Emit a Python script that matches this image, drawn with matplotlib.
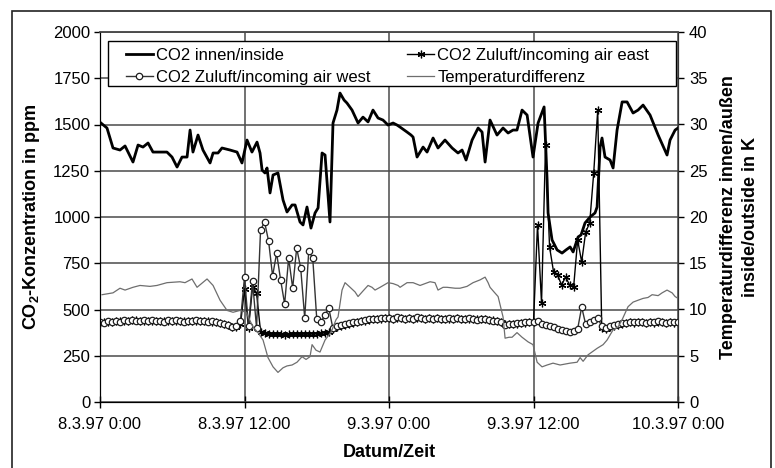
import numpy as np
import matplotlib
matplotlib.use('Agg')
import matplotlib.pyplot as plt
from matplotlib.patches import Rectangle

plt.rcParams['font.family'] = ['Liberation Sans', 'DejaVu Sans']
plt.rcParams['mathtext.fontset'] = 'custom'
plt.rcParams['mathtext.rm'] = 'Liberation Sans'
plt.rcParams['mathtext.bf'] = 'Liberation Sans:bold'

# ---------------- data ----------------
tick_hours = [0, 12, 24, 36, 48]
tick_labels = ["8.3.97 0:00", "8.3.97 12:00", "9.3.97 0:00", "9.3.97 12:00", "10.3.97 0:00"]

inside_hours = [0.08, 0.58, 1.08, 1.66, 2.08, 2.33, 2.74, 3.16, 3.57, 3.99, 4.40, 4.98, 5.56, 5.98,
                6.40, 6.81, 7.23, 7.48, 7.72, 8.14, 8.55, 9.14, 9.39, 9.80, 10.13, 10.80, 11.38,
                11.79, 12.21, 12.62, 13.04, 13.29, 13.46, 13.70, 13.87, 14.12, 14.37, 14.78, 15.20,
                15.53, 15.95, 16.20, 16.61, 16.86, 17.19, 17.52, 17.86, 18.11, 18.44, 18.69, 19.10,
                19.35, 19.68, 19.93, 20.27, 20.51, 20.93, 21.43, 21.84, 22.26, 22.67, 23.09, 23.50,
                23.92, 24.34, 24.67, 24.92, 25.50, 25.83, 26.00, 26.33, 26.83, 27.16, 27.66, 28.07,
                28.65, 29.24, 29.73, 30.07, 30.40, 30.90, 31.40, 31.73, 31.98, 32.39, 32.97, 33.47,
                33.89, 34.30, 34.63, 35.05, 35.47, 35.96, 36.38, 36.88, 37.13, 37.21, 37.54, 37.96,
                38.37, 38.70, 39.04, 39.29, 39.70, 39.95, 40.28, 40.70, 41.11, 41.28, 41.53, 41.69,
                41.94, 42.36, 42.61, 42.94, 43.36, 43.77, 44.27, 44.68, 45.10, 45.68, 46.35, 47.09,
                47.34, 47.76, 48.00]
inside_ppm = [1508, 1481, 1373, 1362, 1384, 1351, 1297, 1389, 1378, 1400, 1351, 1351, 1351, 1324,
              1270, 1324, 1324, 1470, 1351, 1443, 1362, 1292, 1346, 1346, 1373, 1362, 1351,
              1292, 1416, 1351, 1405, 1346, 1254, 1238, 1265, 1130, 1227, 1238, 1092,
              1027, 1065, 1065, 973, 957, 1054, 940, 1022, 1049, 1346, 1335, 973,
              1508, 1578, 1670, 1632, 1616, 1578, 1508, 1540, 1514, 1578, 1535, 1524,
              1497, 1508, 1497, 1486, 1459, 1443, 1432, 1324, 1378, 1351, 1427, 1373,
              1416, 1373, 1346, 1362, 1308, 1416, 1481, 1459, 1297, 1524, 1443, 1481,
              1454, 1470, 1470, 1578, 1551, 1324, 1508, 1595, 1200, 1022, 876, 822,
              805, 822, 838, 811, 892, 903, 968, 1000, 1022, 1054, 1378, 1427,
              1324, 1308, 1265, 1470, 1622, 1622, 1562, 1578, 1605, 1551, 1443, 1335,
              1416, 1470, 1481]

# incoming air, sampled every 20 minutes (145 samples from 0 h to 48 h)
sample_step_h = 1.0 / 3.0
west_ppm = [432, 428, 436, 430, 440, 434, 442, 438, 445, 440, 436, 442, 438, 444, 436, 440, 434, 441,
            437, 443, 438, 435, 440, 437, 442, 436, 440, 434, 438, 432,
            428, 422, 415, 405, 410, 440,
            676, 410, 654, 400,
            930, 973, 870, 681, 805, 659, 530, 778, 616, 832, 724, 454, 816, 778, 449, 430, 470, 508,
            400, 410, 415, 420, 425, 430, 435, 440, 443, 446, 448, 450, 452, 455,
            455, 450, 458, 452, 448, 455, 450, 457, 452, 448, 454, 450, 456, 451, 447, 453, 449, 455,
            450, 446, 452, 448, 444, 450, 446, 442, 440, 436,
            430, 418, 422, 420, 425, 428, 430, 432,
            432, 440, 420, 415, 410, 405, 395, 390, 385, 380, 385, 395, 513, 420, 435, 445, 455, 410,
            400, 410, 416, 420, 425,
            428, 432, 430, 435, 432, 428, 434, 430, 436, 432, 428, 434, 430, 432]
east_ppm = [428, 432, 432, 434, 436, 438, 438, 440, 441, 442, 440, 438, 440, 440, 438, 437, 436, 438,
            440, 440, 439, 437, 436, 438, 438, 437, 436, 436, 435, 430,
            425, 420, 415, 408, 405, 420,
            610, 400, 620, 590,
            380, 372, 368, 366, 365, 366, 364, 366, 365, 367, 366, 368, 367, 369, 370, 372, 375, 380,
            395, 405, 412, 418, 422, 428, 432, 436, 440, 444, 446, 448, 450, 452,
            452, 450, 454, 452, 450, 452, 451, 454, 452, 450, 452, 450, 453, 451, 449, 451, 450, 452,
            450, 448, 450, 448, 446, 448, 446, 444, 442, 438,
            432, 420, 420, 421, 424, 426, 429, 430,
            430, 957, 535, 1389, 838, 703, 686, 632, 676, 632, 622, 876, 757, 919, 968, 1238, 1578, 400,
            395, 405, 410, 415, 420,
            425, 430, 428, 432, 430, 426, 432, 428, 434, 430, 426, 432, 428, 430]

temp_hours = [0.17, 1.08, 1.66, 2.08, 2.74, 3.32, 4.15, 4.73, 5.56, 6.64, 7.06, 7.64, 8.06, 8.89, 9.39,
              9.97, 10.55, 11.05, 11.63, 12.13, 12.71, 13.12, 13.54, 13.95, 14.37, 14.78, 15.20,
              15.53, 15.95, 16.36, 16.78, 17.11, 17.44, 17.61, 17.94, 18.27, 18.69, 19.10, 19.27,
              19.60, 19.77, 20.10, 20.35, 20.77, 21.18, 21.43, 21.84, 22.26, 22.59, 22.84, 23.26,
              23.92, 24.34, 24.75, 24.92, 25.50, 26.00, 26.58, 27.41, 27.82, 28.07, 28.49, 28.82,
              29.49, 29.90, 30.48, 30.98, 31.56, 31.98, 32.23, 32.39, 32.72, 33.06, 33.47, 33.64,
              33.97, 34.22, 34.63, 35.05, 35.55, 35.96, 36.30, 36.71, 37.13, 37.62, 38.21, 38.62,
              39.04, 39.62, 39.87, 40.12, 40.53, 41.28, 41.78, 42.11, 42.61, 43.02, 43.36, 43.85,
              44.27, 44.68, 45.10, 45.51, 45.85, 46.35, 46.68, 47.09, 47.51, 47.76, 48.00]
temp_K = [11.6, 11.8, 12.3, 12.1, 12.4, 12.6, 12.5, 12.6, 12.9, 13.0, 12.9, 13.3, 12.4, 13.3, 12.6,
          11.0, 9.9, 9.7, 9.9, 9.7, 8.1, 7.5, 6.7, 4.8, 3.8, 3.2, 3.7,
          3.9, 4.0, 4.3, 4.9, 4.6, 4.9, 6.2, 5.6, 5.4, 6.7, 7.4, 7.8,
          8.9, 9.2, 12.1, 12.9, 12.4, 11.9, 11.4, 12.0, 12.6, 12.4, 12.1, 12.4,
          12.9, 12.8, 12.6, 12.4, 12.9, 12.9, 12.6, 13.0, 12.9, 12.1, 12.4, 12.4,
          12.3, 12.3, 12.5, 12.9, 13.2, 13.5, 12.9, 12.4, 11.9, 11.4, 9.2, 6.9,
          7.0, 7.0, 7.5, 7.0, 6.5, 6.2, 4.3, 3.8, 4.0, 4.2, 4.0, 4.1,
          4.2, 4.3, 4.8, 4.4, 5.1, 5.8, 6.2, 6.7, 7.8, 8.1, 8.9, 10.3,
          10.8, 11.0, 11.2, 11.3, 11.6, 11.5, 11.8, 12.1, 11.8, 11.4, 11.2]

# ---------------- figure ----------------
fig = plt.figure(figsize=(7.75, 4.68), dpi=100)
ax = fig.add_axes([100 / 775, 1 - 402 / 468, 578 / 775, 370 / 468])
ax2 = ax.twinx()

grid_hours = np.arange(len(west_ppm)) * sample_step_h

grid_col = '#4a4a4a'
ax.set_axisbelow(True)
ax.grid(True, color=grid_col, lw=1.1)

l_in, = ax.plot(inside_hours, inside_ppm, color='black', lw=2.0, zorder=3,
                label='CO2 innen/inside')
l_east, = ax.plot(grid_hours, east_ppm, color='black', lw=1.0, marker=(6, 2, 0), ms=5.5,
                  mew=0.9, zorder=4, label='CO2 Zuluft/incoming air east')
l_west, = ax.plot(grid_hours, west_ppm, color='#333333', lw=1.0, marker='o', ms=4.6,
                  mfc='white', mec='#1e1e1e', mew=0.9, zorder=5,
                  label='CO2 Zuluft/incoming air west')
l_temp, = ax2.plot(temp_hours, temp_K, color='#6e6e6e', lw=0.9, zorder=2,
                   label='Temperaturdifferenz')

ax.set_xlim(0, 48)
ax.set_ylim(0, 2000)
ax2.set_ylim(0, 40)
ax.set_yticks(np.arange(0, 2001, 250))
ax2.set_yticks(np.arange(0, 41, 5))
ax.set_xticks(tick_hours)
ax.set_xticklabels(tick_labels)

ax.tick_params(axis='x', direction='inout', length=9, width=1.0, labelsize=12, pad=6)
ax.tick_params(axis='y', direction='out', length=4, width=1.0, labelsize=12, pad=3)
ax2.tick_params(axis='y', direction='out', length=4, width=1.0, labelsize=12, pad=4)

for a in (ax, ax2):
    a.spines['top'].set_color(grid_col)
    a.spines['top'].set_linewidth(1.1)
    a.spines['left'].set_color('black')
    a.spines['bottom'].set_color('black')
    a.spines['right'].set_color('#333333')

ax.set_ylabel(r'CO$_\mathbf{2}$-Konzentration in ppm', fontsize=13, fontweight='bold', labelpad=8)
ax2.set_ylabel('Temperaturdifferenz innen/außen\ninside/outside in K', fontsize=13,
               fontweight='bold', rotation=90, labelpad=9, linespacing=1.4)
ax.set_xlabel('Datum/Zeit', fontsize=13, fontweight='bold', labelpad=9)

# legend box
rect = Rectangle((8 / 578, (402 - 86) / 370), 568 / 578, 45 / 370, transform=ax2.transAxes,
                 facecolor='white', edgecolor='black', lw=1.0, zorder=6)
ax2.add_patch(rect)
leg = ax2.legend([l_in, l_west, l_east, l_temp],
                 [l_in.get_label(), l_west.get_label(), l_east.get_label(), l_temp.get_label()],
                 ncol=2, loc='upper left', bbox_to_anchor=(0.025, 0.988), frameon=False,
                 fontsize=12, handlelength=1.6, handletextpad=0.2, columnspacing=2.2,
                 labelspacing=0.4, borderpad=0.2)
leg.set_zorder(7)

# outer frame
fig.add_artist(Rectangle((12 / 775, -0.02), 759 / 775, 1 - 11 / 468 + 0.02,
                         transform=fig.transFigure, fill=False, edgecolor='#222222', lw=1.2))

fig.savefig('out.png', dpi=100)
